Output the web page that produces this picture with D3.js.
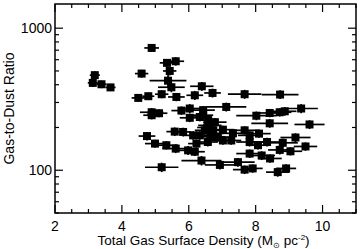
<!DOCTYPE html>
<html>
<head>
<meta charset="utf-8">
<script src="https://cdn.jsdelivr.net/npm/d3@7"></script>
<style>
  body { margin: 0; background: #fff; }
  text { font-family: "Liberation Sans", Arial, sans-serif; fill: #000; }
</style>
</head>
<body>
<div id="chart"></div>
<script>
// total gas surface density (Msun pc^-2) and its uncertainty
const gasDensity = [
  3.19, 3.13, 3.39, 3.66, 4.89, 4.59, 5.35, 5.61, 5.43, 5.38, 5.48, 4.49, 4.79, 5.19,
  5.63, 6.18, 6.39, 6.71, 4.89, 5.11, 4.89, 5.78, 6.03, 6.03, 6.43, 6.43, 6.58, 6.33,
  6.63, 6.48, 6.73, 6.33, 6.13, 5.58, 5.83, 7.12, 7.67, 8.73, 8.02, 8.42, 8.72, 8.87,
  9.36, 8.42, 9.61, 7.02, 7.32, 7.02, 7.27, 7.67, 7.82, 8.10, 7.82, 8.07, 8.34, 8.81,
  9.19, 9.49, 8.72, 9.04, 7.82, 8.18, 8.43, 7.47, 7.67, 7.91, 8.66, 8.91, 6.93, 6.38,
  4.75, 4.99, 5.33, 5.61, 5.98, 6.18, 6.23, 5.19, 6.73, 6.87, 6.57, 6.78, 6.55, 6.65
];
const gasDensityErr = [
  0.15, 0.15, 0.15, 0.15, 0.22, 0.20, 0.22, 0.25, 0.20, 0.55, 0.40, 0.20, 0.18, 0.20,
  0.25, 0.25, 0.35, 0.25, 0.35, 0.25, 0.25, 0.30, 0.35, 0.30, 0.35, 0.30, 0.30, 0.35,
  0.35, 0.30, 0.30, 0.30, 0.30, 0.25, 0.25, 0.60, 0.50, 0.55, 0.60, 0.45, 0.35, 0.35,
  0.50, 0.55, 0.45, 0.35, 0.35, 0.30, 0.30, 0.45, 0.35, 0.35, 0.40, 0.35, 0.40, 0.45,
  0.45, 0.35, 0.35, 0.35, 0.40, 0.40, 0.35, 0.50, 0.35, 0.30, 0.35, 0.30, 0.45, 0.60,
  0.25, 0.30, 0.35, 0.40, 0.30, 0.30, 0.25, 0.50, 0.35, 0.35, 0.30, 0.35, 0.30, 0.40
];
// gas-to-dust ratio and its uncertainty
const gasToDust = [
  467, 412, 403, 383, 726, 479, 570, 585, 500, 427, 384, 323, 332, 343,
  328, 337, 390, 350, 256, 252, 244, 263, 272, 234, 265, 244, 225, 237,
  207, 191, 191, 176, 176, 187, 186, 279, 343, 341, 242, 253, 256, 260,
  272, 214, 210, 193, 182, 162, 162, 191, 176, 181, 158, 150, 158, 156,
  170, 147, 139, 136, 131, 127, 121, 114, 101, 103, 97, 103, 109, 117,
  174, 154, 150, 142, 138, 135, 154, 105, 172, 171, 158, 218, 200, 182
];
const gasToDustErr = [
  30, 25, 25, 22, 45, 30, 35, 40, 35, 45, 30, 20, 20, 22,
  22, 25, 28, 25, 18, 16, 16, 18, 20, 16, 18, 16, 15, 16,
  14, 13, 13, 12, 12, 13, 13, 20, 25, 24, 17, 17, 17, 18,
  20, 15, 15, 13, 12, 11, 11, 13, 12, 12, 11, 10, 11, 11,
  12, 10, 10, 9, 9, 9, 8, 8, 7, 7, 7, 7, 8, 9,
  12, 10, 10, 10, 10, 9, 10, 8, 12, 12, 11, 15, 14, 12
];

const xTickValues = [2, 4, 6, 8, 10];
const xMinorValues = d3.range(2, 11.01, 0.5);
const yTickValues = [100, 1000];
const yMinorValues = [50, 60, 70, 80, 90, 200, 300, 400, 500, 600, 700, 800, 900];

const width = 360, height = 249;
const margin = { top: 4, right: 4, bottom: 36, left: 55 };

const svg = d3.select("#chart").append("svg")
  .attr("width", width)
  .attr("height", height);

const x = d3.scaleLinear().domain([2, 11]).range([margin.left, width - margin.right]);
const y = d3.scaleLog().domain([50, 1480]).range([height - margin.bottom, margin.top]);

const [x0, x1] = x.range();
const [y0, y1] = y.range();

// data: error bars then square markers
const pts = gasDensity.map((d, i) => ({
  x: d, xe: gasDensityErr[i], y: gasToDust[i], ye: gasToDustErr[i]
}));

const g = svg.append("g");

g.selectAll("line.xerr").data(pts).join("line")
  .attr("class", "xerr")
  .attr("x1", d => x(d.x - d.xe)).attr("x2", d => x(d.x + d.xe))
  .attr("y1", d => y(d.y)).attr("y2", d => y(d.y))
  .attr("stroke", "#000").attr("stroke-width", 1.7);

g.selectAll("line.yerr").data(pts).join("line")
  .attr("class", "yerr")
  .attr("x1", d => x(d.x)).attr("x2", d => x(d.x))
  .attr("y1", d => y(d.y - d.ye)).attr("y2", d => y(d.y + d.ye))
  .attr("stroke", "#000").attr("stroke-width", 1.7);

const s = 8;
g.selectAll("rect.pt").data(pts).join("rect")
  .attr("class", "pt")
  .attr("x", d => x(d.x) - s / 2).attr("y", d => y(d.y) - s / 2)
  .attr("width", s).attr("height", s)
  .attr("fill", "#000");

// frame
svg.append("rect")
  .attr("x", x0).attr("y", y1)
  .attr("width", x1 - x0).attr("height", y0 - y1)
  .attr("fill", "none").attr("stroke", "#000").attr("stroke-width", 1.5);

// ticks on all four sides (pointing inward)
const ticks = svg.append("g").attr("stroke", "#000").attr("stroke-width", 1.2);
const major = 8, minor = 4;

xMinorValues.forEach(v => {
  const len = xTickValues.includes(v) ? major : minor;
  ticks.append("line").attr("x1", x(v)).attr("x2", x(v)).attr("y1", y0).attr("y2", y0 - len);
  ticks.append("line").attr("x1", x(v)).attr("x2", x(v)).attr("y1", y1).attr("y2", y1 + len);
});
yTickValues.concat(yMinorValues).forEach(v => {
  const len = yTickValues.includes(v) ? major : minor;
  ticks.append("line").attr("y1", y(v)).attr("y2", y(v)).attr("x1", x0).attr("x2", x0 + len);
  ticks.append("line").attr("y1", y(v)).attr("y2", y(v)).attr("x1", x1).attr("x2", x1 - len);
});

// tick labels
svg.selectAll("text.xl").data(xTickValues).join("text")
  .attr("class", "xl")
  .attr("x", d => x(d)).attr("y", y0 + 18)
  .attr("text-anchor", "middle")
  .attr("font-size", 14)
  .text(d => d);

svg.selectAll("text.yl").data(yTickValues).join("text")
  .attr("class", "yl")
  .attr("x", x0 - 3).attr("y", d => y(d))
  .attr("dy", "0.36em")
  .attr("text-anchor", "end")
  .attr("font-size", 14)
  .text(d => d);

// axis titles
const xt = svg.append("text")
  .attr("x", (x0 + x1) / 2 - 2).attr("y", 245)
  .attr("text-anchor", "middle")
  .attr("font-size", 13.5);
xt.append("tspan").text("Total Gas Surface Density (M");
xt.append("tspan").attr("font-size", 8).attr("dy", 3).text("⊙");
xt.append("tspan").attr("dy", -3).text(" pc");
xt.append("tspan").attr("font-size", 8).attr("dy", -5).text("-2");
xt.append("tspan").attr("dy", 5).text(")");

svg.append("text")
  .attr("transform", `translate(14,${(y0 + y1) / 2}) rotate(-90)`)
  .attr("text-anchor", "middle")
  .attr("font-size", 14)
  .text("Gas-to-Dust Ratio");
</script>
</body>
</html>
